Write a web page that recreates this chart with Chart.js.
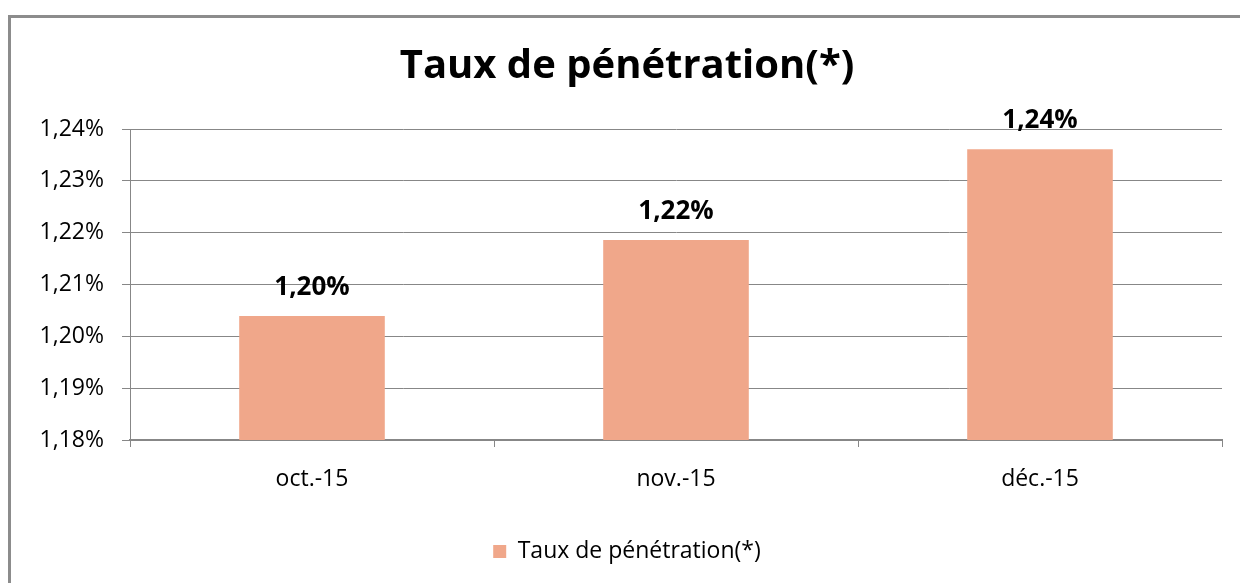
<!DOCTYPE html>
<html>
<head>
<meta charset="utf-8">
<script src="https://cdn.jsdelivr.net/npm/chart.js@4.4.1/dist/chart.umd.min.js"></script>
<style>
  html, body { margin: 0; padding: 0; background: #ffffff; }
  #wrap { position: relative; width: 1240px; height: 583px; overflow: hidden; }
  #frame { position: absolute; left: 8px; top: 15px; width: 1240px; height: 600px;
           border-left: 3px solid #8c8c8c; border-top: 3px solid #8c8c8c; pointer-events: none; }
  canvas { position: absolute; left: 0; top: 0; }
</style>
</head>
<body>
<div id="wrap">
  <canvas id="c" width="1240" height="583"></canvas>
  <div id="frame"></div>
</div>
<script>
const categories = ['oct.-15', 'nov.-15', 'déc.-15'];
const seriesName = 'Taux de pénétration(*)';
const values = [1.2039, 1.2186, 1.2361];
const yMin = 1.18;
const yMax = 1.24;
const yStep = 0.01;
const chartTitle = 'Taux de pénétration(*)';

const FONT = "'Open Sans', 'Noto Sans', sans-serif";
const fmt = v => v.toFixed(2).replace('.', ',') + '%';

const dataLabels = {
  id: 'dataLabels',
  afterDatasetsDraw(chart) {
    const ctx = chart.ctx;
    const meta = chart.getDatasetMeta(0);
    ctx.save();
    ctx.font = "bold 26px " + FONT;
    ctx.fillStyle = '#000000';
    ctx.textAlign = 'center';
    ctx.textBaseline = 'alphabetic';
    meta.data.forEach((bar, i) => {
      ctx.fillText(fmt(chart.data.datasets[0].data[i]), bar.x, bar.y - 21);
    });
    ctx.restore();
  }
};

new Chart(document.getElementById('c'), {
  type: 'bar',
  data: {
    labels: categories,
    datasets: [{
      label: seriesName,
      data: values,
      backgroundColor: '#F0A78A',
      borderWidth: 0,
      categoryPercentage: 1.0,
      barPercentage: 0.4
    }]
  },
  options: {
    responsive: false,
    animation: false,
    devicePixelRatio: 1,
    layout: { padding: { top: 0, right: 18, bottom: 10, left: 32 } },
    plugins: {
      title: {
        display: true,
        text: chartTitle,
        color: '#000000',
        font: { family: FONT, size: 40, weight: 'bold', lineHeight: 1.2 },
        padding: { top: 43, bottom: 38 }
      },
      legend: {
        display: true,
        position: 'bottom',
        labels: {
          color: '#000000',
          font: { family: FONT, size: 23 },
          boxWidth: 13,
          boxHeight: 13,
          padding: 10
        }
      },
      tooltip: { enabled: false }
    },
    scales: {
      x: {
        afterFit(scale) { scale.height = 90; },
        grid: {
          offset: true,
          drawOnChartArea: false,
          drawTicks: true,
          tickLength: 7,
          color: '#878787',
          lineWidth: 1
        },
        border: { display: true, color: '#878787', width: 2 },
        ticks: {
          color: '#000000',
          font: { family: FONT, size: 23 },
          padding: 19,
          maxRotation: 0
        }
      },
      y: {
        min: yMin,
        max: yMax,
        afterFit(scale) { scale.width = 98; },
        grid: {
          color: '#878787',
          lineWidth: 1,
          drawTicks: true,
          tickLength: 8
        },
        border: { display: true, color: '#878787', width: 1 },
        ticks: {
          stepSize: yStep,
          color: '#000000',
          font: { family: FONT, size: 23 },
          padding: 18,
          callback: v => fmt(v)
        }
      }
    }
  },
  plugins: [dataLabels]
});
</script>
</body>
</html>
